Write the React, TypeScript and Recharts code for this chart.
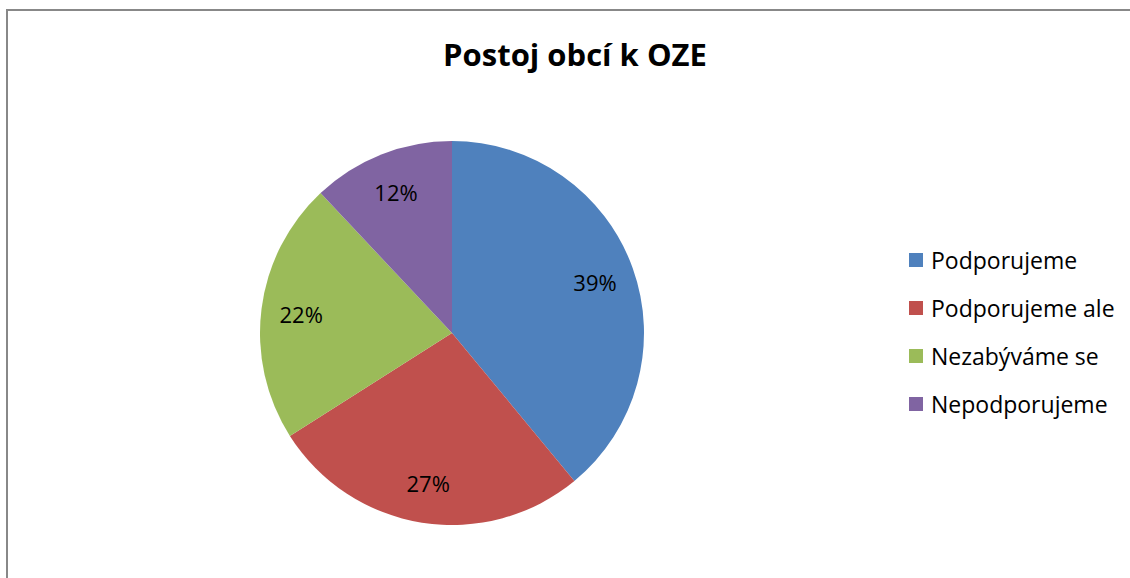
import React from 'react';
import { PieChart, Pie, Cell } from 'recharts';

const categories = ['Podporujeme', 'Podporujeme ale', 'Nezabýváme se', 'Nepodporujeme'];
const shares = [39, 27, 22, 12];
const colors = ['#4F81BD', '#C0504D', '#9BBB59', '#8064A2'];

const data = categories.map((name, i) => ({ name, value: shares[i] }));

const FONT = '"Open Sans", "Noto Sans", sans-serif';
const RAD = Math.PI / 180;

const renderLabel = (props: any) => {
  const { cx, cy, midAngle, percent } = props;
  const r = 152;
  const x = cx + r * Math.cos(-midAngle * RAD);
  const y = cy + r * Math.sin(-midAngle * RAD);
  return (
    <text x={x} y={y} fill="#000" textAnchor="middle" dominantBaseline="central"
      style={{ fontFamily: FONT, fontSize: 22 }}>
      {`${Math.round(percent * 100)}%`}
    </text>
  );
};

export default function App() {
  return (
    <div style={{ position: 'absolute', left: 0, top: 0, width: 1130, height: 578, overflow: 'hidden', background: '#fff' }}>
      <div style={{ position: 'absolute', left: 6, top: 9, width: 1200, height: 700, borderTop: '2px solid #888', borderLeft: '2px solid #888' }} />
      <div style={{ position: 'absolute', left: 0, top: 33, width: 1150, textAlign: 'center', fontFamily: FONT, fontWeight: 700, fontSize: 31, color: '#000' }}>
        Postoj obcí k OZE
      </div>
      <div style={{ position: 'absolute', left: 0, top: 0 }}>
        <PieChart width={1130} height={578} margin={{ top: 0, right: 0, bottom: 0, left: 0 }}>
          <Pie data={data} dataKey="value" nameKey="name" cx={452} cy={333} outerRadius={192}
            startAngle={90} endAngle={-270} stroke="none" label={renderLabel} labelLine={false}
            isAnimationActive={false}>
            {data.map((d, i) => <Cell key={d.name} fill={colors[i]} />)}
          </Pie>
        </PieChart>
      </div>
      <div style={{ position: 'absolute', left: 909, top: 236, fontFamily: FONT, fontSize: 23, color: '#000' }}>
        {categories.map((c, i) => (
          <div key={c} style={{ display: 'flex', alignItems: 'center', height: 48 }}>
            <div style={{ width: 14, height: 14, background: colors[i], marginRight: 8 }} />
            <span>{c}</span>
          </div>
        ))}
      </div>
    </div>
  );
}
